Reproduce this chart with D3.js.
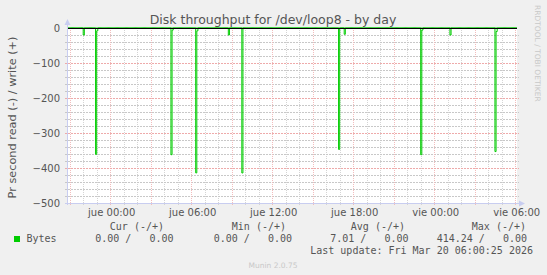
<!DOCTYPE html>
<html>
<head>
<meta charset="utf-8">
<script src="https://cdn.jsdelivr.net/npm/d3@7"></script>
<style>
  html, body { margin: 0; padding: 0; background: #f0f0f0; }
  svg { display: block; }
  text { white-space: pre; }
</style>
</head>
<body>
<div id="chart"></div>
<script>
// read (-) samples that are not zero, 5 minute steps, bytes per second
const readTimes = [
    "2026-03-18 22:05", "2026-03-18 23:00", "2026-03-18 23:05",
    "2026-03-19 04:35", "2026-03-19 04:40", "2026-03-19 06:25",
    "2026-03-19 06:30", "2026-03-19 08:50", "2026-03-19 09:50",
    "2026-03-19 17:00", "2026-03-19 17:25", "2026-03-19 23:05",
    "2026-03-19 23:10", "2026-03-20 01:15", "2026-03-20 04:35",
    "2026-03-20 04:40"
];
const readValues = [20, 361, 8, 362, 6, 414, 8, 20, 414.24, 347, 18, 362, 6, 20, 353, 10];

const timeSpan = ["2026-03-18 20:48", "2026-03-20 06:08"];
const tickTimes = ["2026-03-19 00:00", "2026-03-19 06:00", "2026-03-19 12:00",
                   "2026-03-19 18:00", "2026-03-20 00:00", "2026-03-20 06:00"];
const tickLabels = ["jue 00:00", "jue 06:00", "jue 12:00", "jue 18:00", "vie 00:00", "vie 06:00"];
const yTicks = [0, -100, -200, -300, -400, -500];
const yMinorTicks = [-480, -460, -440, -420, -380, -360, -340, -320, -280, -260, -240, -220,
                     -180, -160, -140, -120, -80, -60, -40, -20];

const legendHeads = ["Cur (-/+)", "Min (-/+)", "Avg (-/+)", "Max (-/+)"];
const legendValues = ["0.00 /   0.00", "0.00 /   0.00", "7.01 /   0.00", "414.24 /   0.00"];

const W = 547, H = 275;
const plot = { left: 67, right: 517, top: 28, bottom: 203 };
const green = "#00cc00";
const axisColor = "#c8cdf0";
const minorColor = "#c8c8c8";
const majorColor = "#eeaaaa";

const parse = d3.timeParse("%Y-%m-%d %H:%M");

// full sample list: every 5 minutes, read is 0 unless listed above
const readMap = new Map(readTimes.map((t, i) => [+parse(t), readValues[i]]));
const samples = d3.timeMinute.every(5)
    .range(parse(timeSpan[0]), d3.timeMinute.offset(parse(timeSpan[1]), 5))
    .map(t => ({ t: t, read: readMap.get(+t) || 0, write: 0 }));

const x = d3.scaleTime()
    .domain(timeSpan.map(parse))
    .range([plot.left, plot.right]);

const y = d3.scaleLinear()
    .domain([-500, 0])
    .range([plot.bottom, plot.top]);

const svg = d3.select("#chart").append("svg")
    .attr("width", W)
    .attr("height", H)
    .style("font-family", "'DejaVu Sans', sans-serif");

svg.append("rect").attr("width", W).attr("height", H).attr("fill", "#f0f0f0");

// canvas
svg.append("rect")
    .attr("x", plot.left).attr("y", plot.top)
    .attr("width", plot.right - plot.left)
    .attr("height", plot.bottom - plot.top)
    .attr("fill", "#ffffff");

const hours = d3.timeHour.every(1).range(x.domain()[0], x.domain()[1]);
const grid = svg.append("g").attr("shape-rendering", "crispEdges");

function vGrid(data, color, ext) {
    grid.append("g").selectAll("line").data(data)
        .join("line")
        .attr("x1", d => Math.round(x(d)) + 0.5).attr("x2", d => Math.round(x(d)) + 0.5)
        .attr("y1", plot.top).attr("y2", plot.bottom + ext)
        .attr("stroke", color).attr("stroke-dasharray", "1,1");
}
function hGrid(data, color) {
    grid.append("g").selectAll("line").data(data)
        .join("line")
        .attr("x1", plot.left - 2).attr("x2", plot.right + 2)
        .attr("y1", d => Math.round(y(d)) + 0.5).attr("y2", d => Math.round(y(d)) + 0.5)
        .attr("stroke", color).attr("stroke-dasharray", "2,1");
}

// minor grid: every hour / every 20, major: every 3 hours / every 100
vGrid(hours.filter(h => h.getHours() % 3 !== 0), "#d4d4d4", 2);
hGrid(yMinorTicks, minorColor);
vGrid(hours.filter(h => h.getHours() % 3 === 0), "#f2bcbc", 3);
hGrid(yTicks.filter(v => v !== 0 && v !== -500), majorColor);

// series
const lineRead = d3.line()
    .x(d => x(d.t))
    .y(d => y(-d.read))
    .curve(d3.curveStepBefore);

const lineWrite = d3.line()
    .x(d => x(d.t))
    .y(d => y(d.write))
    .curve(d3.curveStepBefore);

svg.append("clipPath").attr("id", "clip").append("rect")
    .attr("x", plot.left).attr("y", plot.top - 2)
    .attr("width", plot.right - plot.left).attr("height", plot.bottom - plot.top + 2);

svg.append("path")
    .datum(samples)
    .attr("clip-path", "url(#clip)")
    .attr("d", lineRead)
    .attr("fill", "none")
    .attr("stroke", green)
    .attr("stroke-width", 1);

svg.append("path")
    .datum(samples)
    .attr("clip-path", "url(#clip)")
    .attr("d", lineWrite)
    .attr("fill", "none")
    .attr("stroke", green)
    .attr("stroke-width", 1);

// zero rule
svg.append("line")
    .attr("x1", plot.left).attr("x2", plot.right)
    .attr("y1", y(0) + 0.5).attr("y2", y(0) + 0.5)
    .attr("stroke", "#000000")
    .attr("shape-rendering", "crispEdges");

// axes lines with arrows
const axes = svg.append("g").attr("shape-rendering", "crispEdges");
axes.append("line")
    .attr("x1", plot.left + 0.5).attr("x2", plot.left + 0.5)
    .attr("y1", plot.bottom + 2).attr("y2", plot.top - 4)
    .attr("stroke", axisColor);
axes.append("line")
    .attr("x1", plot.left - 2).attr("x2", plot.right + 2)
    .attr("y1", plot.bottom + 0.5).attr("y2", plot.bottom + 0.5)
    .attr("stroke", axisColor);
svg.append("path")
    .attr("d", `M${plot.left - 2.5},${plot.top - 3} L${plot.left + 3.5},${plot.top - 3} L${plot.left + 0.5},${plot.top - 9} Z`)
    .attr("fill", axisColor);
svg.append("path")
    .attr("d", `M${plot.right + 2},${plot.bottom - 2.5} L${plot.right + 2},${plot.bottom + 3.5} L${plot.right + 8},${plot.bottom + 0.5} Z`)
    .attr("fill", axisColor);

// tick labels
const xAxis = d3.axisBottom(x)
    .tickValues(tickTimes.map(parse))
    .tickFormat((d, i) => tickLabels[i])
    .tickSize(0)
    .tickPadding(0);

const gx = svg.append("g")
    .attr("transform", `translate(1,${plot.bottom + 13})`)
    .call(xAxis);
gx.select(".domain").remove();
gx.selectAll("text")
    .attr("y", 0).attr("dy", 0)
    .attr("fill", "#555")
    .style("font-family", "'DejaVu Sans', sans-serif")
    .style("font-size", "10px");

const yAxis = d3.axisLeft(y)
    .tickValues(yTicks)
    .tickFormat(d3.format("d"))
    .tickSize(0)
    .tickPadding(0);

const gy = svg.append("g")
    .attr("transform", `translate(${plot.left - 7},0)`)
    .call(yAxis);
gy.select(".domain").remove();
gy.selectAll("text")
    .attr("dy", "0.36em")
    .attr("fill", "#555")
    .style("font-family", "'DejaVu Sans', sans-serif")
    .style("font-size", "10px");

// title
svg.append("text")
    .attr("x", 273).attr("y", 24)
    .attr("text-anchor", "middle")
    .attr("fill", "#555")
    .style("font-size", "12.5px")
    .text("Disk throughput for /dev/loop8 - by day");

// y label
svg.append("text")
    .attr("transform", `translate(15.5,${(plot.top + plot.bottom) / 2 + 2}) rotate(-90)`)
    .attr("text-anchor", "middle")
    .attr("fill", "#555")
    .style("font-size", "11.3px")
    .text("Pr second read (-) / write (+)");

// watermark
svg.append("text")
    .attr("transform", "translate(535,5) rotate(90)")
    .attr("text-anchor", "start")
    .attr("fill", "#c8c8c8")
    .style("font-size", "7.5px")
    .text("RRDTOOL / TOBI OETIKER");

// legend
const legend = svg.append("g")
    .style("font-family", "'DejaVu Sans Mono', monospace")
    .style("font-size", "10px")
    .attr("fill", "#555");

const headEnds = [164, 286, 405, 526];
const valueEnds = [173.5, 292, 408.5, 527];

legend.selectAll(".head").data(legendHeads)
    .join("text")
    .attr("x", (d, i) => headEnds[i]).attr("y", 230)
    .attr("text-anchor", "end")
    .text(d => d);

legend.append("rect")
    .attr("x", 14).attr("y", 236)
    .attr("width", 6).attr("height", 6)
    .attr("fill", green);

legend.append("text")
    .attr("x", 26.5).attr("y", 242)
    .text("Bytes");

legend.selectAll(".val").data(legendValues)
    .join("text")
    .attr("x", (d, i) => valueEnds[i]).attr("y", 242)
    .attr("text-anchor", "end")
    .text(d => d);

legend.append("text")
    .attr("x", 533).attr("y", 254)
    .attr("text-anchor", "end")
    .text("Last update: Fri Mar 20 06:00:25 2026");

svg.append("text")
    .attr("x", 273).attr("y", 268)
    .attr("text-anchor", "middle")
    .attr("fill", "#c8c8c8")
    .style("font-size", "7.5px")
    .text("Munin 2.0.75");
</script>
</body>
</html>
